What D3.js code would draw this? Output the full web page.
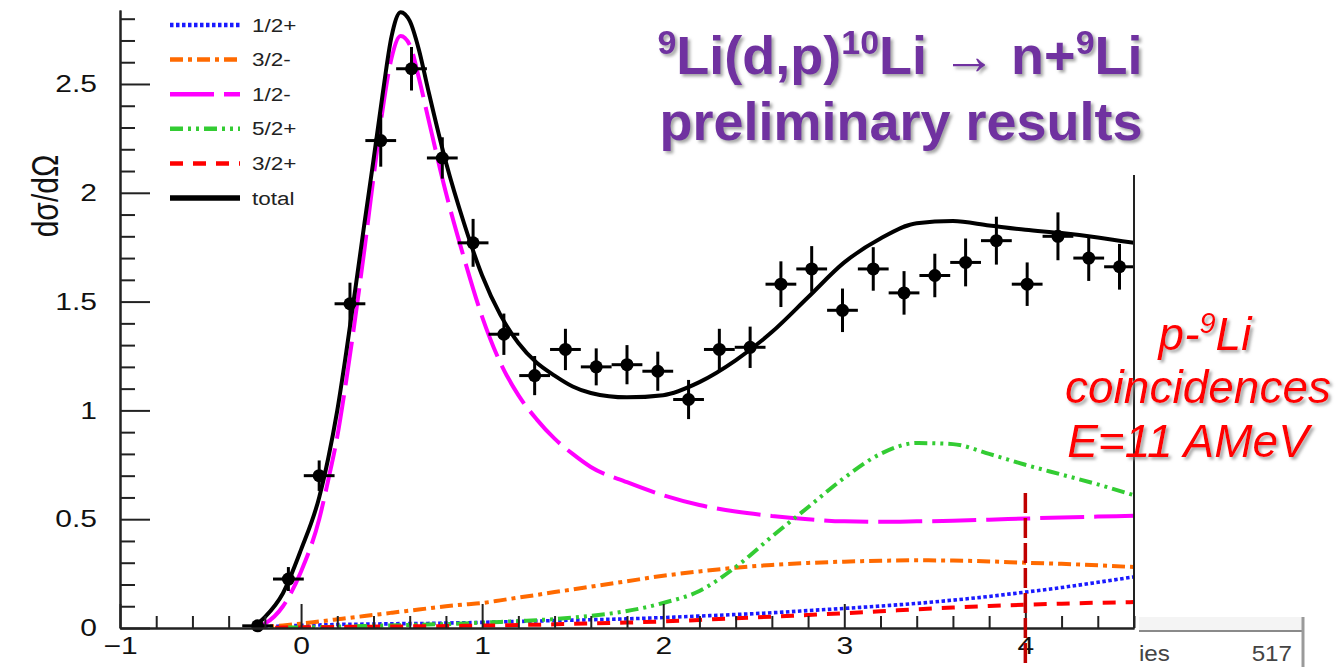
<!DOCTYPE html>
<html><head><meta charset="utf-8">
<script src="https://cdn.jsdelivr.net/npm/d3@7"></script>
<style>
html,body{margin:0;padding:0;background:#fff;}
svg{display:block;font-family:"Liberation Sans",Arial,Helvetica,sans-serif;}
</style></head>
<body>
<svg id="chart" width="1344" height="667"></svg>
<script>
// ---------- data ----------
const xGrid = [-0.27,-0.2,-0.1,0,0.1,0.15,0.2,0.25,0.3,0.35,0.4,0.45,0.5,0.55,0.6,0.65,0.7,0.8,0.9,1.0,1.1,1.2,1.3,1.4,1.5,1.6,1.8,2.0,2.2,2.4,2.6,2.8,3.0,3.2,3.4,3.6,3.8,4.0,4.2,4.4,4.6];
const totalFit = [0,0.05,0.16,0.36,0.60,0.78,1.00,1.27,1.56,1.86,2.15,2.45,2.72,2.83,2.79,2.66,2.48,2.14,1.86,1.62,1.44,1.31,1.22,1.16,1.11,1.08,1.06,1.07,1.13,1.23,1.36,1.52,1.68,1.79,1.86,1.87,1.85,1.83,1.815,1.795,1.77];
const comp1_2m = [0,0.02,0.10,0.26,0.50,0.68,0.88,1.14,1.43,1.74,2.07,2.38,2.62,2.72,2.68,2.53,2.35,2.00,1.70,1.43,1.22,1.07,0.96,0.87,0.80,0.74,0.67,0.61,0.565,0.535,0.515,0.50,0.49,0.488,0.49,0.493,0.498,0.503,0.508,0.512,0.516];
const comp3_2m = [0,0.005,0.012,0.02,0.03,0.035,0.04,0.045,0.05,0.055,0.06,0.065,0.07,0.075,0.08,0.085,0.09,0.10,0.108,0.115,0.127,0.14,0.152,0.165,0.177,0.19,0.215,0.24,0.26,0.277,0.29,0.299,0.305,0.309,0.311,0.31,0.306,0.30,0.295,0.288,0.28];
const comp5_2p = [0,0,0.001,0.003,0.004,0.005,0.006,0.007,0.008,0.009,0.01,0.011,0.012,0.013,0.014,0.015,0.016,0.018,0.021,0.025,0.028,0.032,0.036,0.041,0.048,0.056,0.078,0.115,0.17,0.28,0.42,0.555,0.69,0.80,0.85,0.845,0.80,0.75,0.705,0.66,0.61];
const comp1_2p = [0.004,0.006,0.009,0.012,0.014,0.015,0.016,0.017,0.017,0.018,0.018,0.019,0.019,0.02,0.02,0.021,0.021,0.023,0.024,0.026,0.028,0.03,0.032,0.034,0.036,0.038,0.042,0.048,0.055,0.062,0.07,0.08,0.09,0.101,0.113,0.128,0.145,0.165,0.186,0.21,0.235];
const comp3_2p = [0,0.001,0.002,0.003,0.004,0.004,0.005,0.005,0.006,0.006,0.006,0.007,0.007,0.007,0.008,0.008,0.008,0.009,0.01,0.011,0.012,0.014,0.015,0.017,0.019,0.021,0.025,0.03,0.037,0.045,0.052,0.06,0.068,0.077,0.086,0.094,0.101,0.107,0.112,0.116,0.119];

const dataX = [-0.24,-0.07,0.10,0.27,0.44,0.61,0.78,0.95,1.12,1.29,1.46,1.63,1.80,1.97,2.14,2.31,2.48,2.65,2.82,2.99,3.16,3.33,3.50,3.67,3.84,4.01,4.18,4.35,4.52];
const dataY = [0.01,0.225,0.70,1.49,2.24,2.57,2.16,1.77,1.35,1.16,1.28,1.20,1.21,1.18,1.05,1.28,1.29,1.58,1.65,1.46,1.65,1.54,1.62,1.68,1.78,1.58,1.80,1.70,1.66];
const dataErrY = [0.02,0.055,0.07,0.097,0.12,0.10,0.095,0.11,0.095,0.09,0.095,0.085,0.09,0.09,0.09,0.095,0.095,0.105,0.105,0.10,0.10,0.10,0.10,0.11,0.11,0.10,0.11,0.105,0.105];
const binHalfWidth = 0.085;

const xMajorTicks = [-1,0,1,2,3,4];
const yMajorTicks = [0,0.5,1,1.5,2,2.5];
const xDomain = [-1,4.6];
const yDomain = [0,2.84];
const cutEnergy = 4.0;

const legendLabels = ["1/2+","3/2-","1/2-","5/2+","3/2+","total"];

// ---------- setup ----------
const svg = d3.select("#chart");
const X0=120, X1=1134, Y0=628, Y1=10;
const x = d3.scaleLinear().domain(xDomain).range([X0,X1]);
const y = d3.scaleLinear().domain(yDomain).range([Y0,Y1]);
const SX = 1.25; // horizontal stretch of the original plot image text

const defs = svg.append("defs");
defs.append("clipPath").attr("id","plotclip").append("rect")
  .attr("x",X0).attr("y",0).attr("width",X1-X0).attr("height",Y0);
const f = defs.append("filter").attr("id","shadow").attr("x","-10%").attr("y","-20%").attr("width","130%").attr("height","150%");
f.append("feDropShadow").attr("dx",2.5).attr("dy",2.5).attr("stdDeviation",1.6).attr("flood-color","#888").attr("flood-opacity",0.75);

// ---------- curves ----------
const series = [
  {vals:comp1_2p, color:"#1a1aff", dash:"3.5,2.5", w:3.6},
  {vals:comp3_2m, color:"#ff6a00", dash:"13,5,4,5", w:4},
  {vals:comp1_2m, color:"#ff00ff", dash:"44,10", w:4},
  {vals:comp5_2p, color:"#33cc33", dash:"13,5,3,5,3,5", w:4},
  {vals:comp3_2p, color:"#ff0000", dash:"13,10", w:4},
  {vals:totalFit, color:"#000000", dash:null, w:4}
];
const line = d3.line().x(d=>x(d[0])).y(d=>y(d[1])).curve(d3.curveMonotoneX);
const gc = svg.append("g").attr("clip-path","url(#plotclip)");
series.forEach(s=>{
  gc.append("path").datum(xGrid.map((xv,i)=>[xv,s.vals[i]]))
    .attr("d",line).attr("fill","none").attr("stroke",s.color)
    .attr("stroke-width",s.w).attr("stroke-dasharray",s.dash)
    .attr("stroke-linejoin","round");
});

// ---------- data points ----------
const gp = svg.append("g");
dataX.forEach((xv,i)=>{
  const g = gp.append("g");
  g.append("line").attr("x1",x(xv-binHalfWidth)).attr("x2",x(Math.min(xv+binHalfWidth,xDomain[1])))
    .attr("y1",y(dataY[i])).attr("y2",y(dataY[i])).attr("stroke","#000").attr("stroke-width",3);
  g.append("line").attr("x1",x(xv)).attr("x2",x(xv))
    .attr("y1",y(Math.max(0,dataY[i]-dataErrY[i]))).attr("y2",y(dataY[i]+dataErrY[i]))
    .attr("stroke","#000").attr("stroke-width",3);
  g.append("circle").attr("cx",x(xv)).attr("cy",y(dataY[i])).attr("r",6.5).attr("fill","#000");
});

// ---------- axes ----------
const axisColor="#222";
const xMinor = d3.range(-1,4.61,0.2).map(v=>+v.toFixed(2)).filter(v=>!xMajorTicks.includes(v));
const yMinor = d3.range(0,2.81,0.1).map(v=>+v.toFixed(2)).filter(v=>!yMajorTicks.includes(v));

const gxm = svg.append("g").attr("transform",`translate(0,${Y0})`)
  .call(d3.axisBottom(x).tickValues(xMinor).tickSizeInner(-12).tickSizeOuter(0).tickFormat(""));
const gx = svg.append("g").attr("transform",`translate(0,${Y0})`)
  .call(d3.axisBottom(x).tickValues(xMajorTicks).tickSizeInner(-24).tickSizeOuter(0).tickPadding(9).tickFormat(d3.format("d")));
const gym = svg.append("g").attr("transform",`translate(${X0},0)`)
  .call(d3.axisLeft(y).tickValues(yMinor).tickSizeInner(-15).tickSizeOuter(0).tickFormat(""));
const gy = svg.append("g").attr("transform",`translate(${X0},0)`)
  .call(d3.axisLeft(y).tickValues(yMajorTicks).tickSizeInner(-30).tickSizeOuter(0).tickPadding(23).tickFormat(d=>String(d)));
[gxm,gx,gym,gy].forEach(g=>{
  g.selectAll("path.domain").attr("stroke",axisColor).attr("stroke-width",2);
  g.selectAll(".tick line").attr("stroke",axisColor).attr("stroke-width",2);
});
gx.selectAll("text").attr("font-size",24).attr("fill","#111").attr("font-family","Liberation Sans, Arial, sans-serif")
  .attr("transform",`scale(${SX},1)`);
gy.selectAll("text").attr("font-size",24).attr("fill","#111").attr("font-family","Liberation Sans, Arial, sans-serif")
  .attr("x",-23/SX).attr("transform",`scale(${SX},1)`);

// right frame line (partially hidden by title overlay)
svg.append("line").attr("x1",X1).attr("x2",X1).attr("y1",175).attr("y2",Y0)
  .attr("stroke",axisColor).attr("stroke-width",2);

// y title
svg.append("text").attr("transform","translate(58,196) rotate(-90) scale(1,1.2)")
  .attr("text-anchor","middle").attr("font-size",30).attr("fill","#111").text("dσ/dΩ");

// ---------- legend ----------
const lg = svg.append("g");
legendLabels.forEach((lab,i)=>{
  const s = series[i];
  const yy = 25 + i*34.6;
  lg.append("line").attr("x1",170).attr("x2",240).attr("y1",yy).attr("y2",yy)
    .attr("stroke",s.color).attr("stroke-width",s.dash?4.5:5.5).attr("stroke-dasharray",s.dash);
  lg.append("text").attr("transform",`translate(252,${yy+6.5}) scale(${SX},1)`)
    .attr("font-size",18).attr("fill","#222").text(lab);
});

// ---------- cut line ----------
svg.append("line").attr("x1",x(cutEnergy)).attr("x2",x(cutEnergy)).attr("y1",493).attr("y2",667)
  .attr("stroke","#c00000").attr("stroke-width",3.5).attr("stroke-dasharray","20,5");

// ---------- stats box remnant ----------
svg.append("rect").attr("x",1139).attr("y",617).attr("width",164).attr("height",13).attr("fill","#f4f4f4");
svg.append("line").attr("x1",1139).attr("x2",1303).attr("y1",631).attr("y2",631).attr("stroke","#8a8a8a").attr("stroke-width",2);
svg.append("line").attr("x1",1303).attr("x2",1303).attr("y1",617).attr("y2",667).attr("stroke","#9a9a9a").attr("stroke-width",3);
svg.append("text").attr("transform",`translate(1139,661) scale(1.1,1)`).attr("font-size",22).attr("fill","#444").text("ies");
svg.append("text").attr("transform",`translate(1292,661) scale(1.1,1)`).attr("text-anchor","end").attr("font-size",22).attr("fill","#444").text("517");

// ---------- title ----------
const title = svg.append("g").attr("filter","url(#shadow)").attr("fill","#7030a0")
  .attr("font-weight","bold").attr("font-size",54);
const t1 = title.append("text").attr("x",900).attr("y",74).attr("text-anchor","middle");
const sup = (t,s)=>t.append("tspan").attr("font-size",34).attr("dy",-20).text(s);
const norm = (t,s)=>t.append("tspan").attr("dy",20).text(s);
t1.append("tspan").attr("font-size",34).attr("dy",-20).text("9");
norm(t1,"Li(d,p)");
sup(t1,"10");
norm(t1,"Li ");
t1.append("tspan").attr("font-weight","normal").text("→");
t1.append("tspan").text(" n+");
sup(t1,"9");
norm(t1,"Li");
title.append("text").attr("x",901).attr("y",140).attr("text-anchor","middle").text("preliminary results");

// ---------- red annotation ----------
const ann = svg.append("g").attr("filter","url(#shadow)").attr("fill","#ff0000")
  .attr("font-style","italic").attr("font-size",46).attr("text-anchor","middle");
const a1 = ann.append("text").attr("x",1205).attr("y",350);
a1.append("tspan").text("p-");
a1.append("tspan").attr("font-size",29).attr("dy",-17).text("9");
a1.append("tspan").attr("dy",17).text("Li");
ann.append("text").attr("x",1198).attr("y",403).text("coincidences");
ann.append("text").attr("x",1188).attr("y",457).text("E=11 AMeV");
</script>
</body></html>
